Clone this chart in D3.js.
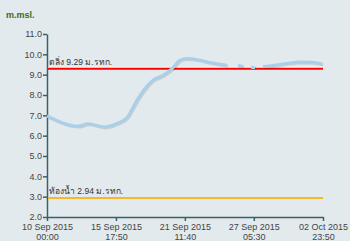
<!DOCTYPE html>
<html>
<head>
<meta charset="utf-8">
<script src="https://cdn.jsdelivr.net/npm/d3@7"></script>
<style>
body { margin: 0; background: #e3eaed; }
svg { display: block; font-family: "Liberation Sans", Arial, sans-serif; }
</style>
</head>
<body>
<div id="chart"></div>
<script>
// water level readings, null = missing
var dates = ["2015-09-10 00:00", "2015-09-12 14:00", "2015-09-13 10:00", "2015-09-14 20:00",
  "2015-09-15 20:00", "2015-09-16 16:00", "2015-09-17 12:00", "2015-09-18 04:00",
  "2015-09-18 20:00", "2015-09-19 16:00", "2015-09-20 10:00", "2015-09-21 02:00",
  "2015-09-21 16:00", "2015-09-22 12:00", "2015-09-23 14:00", "2015-09-25 00:00",
  "2015-09-25 10:00", "2015-09-25 22:00", "2015-09-26 08:00", "2015-09-26 16:00",
  "2015-09-27 00:00", "2015-09-27 08:00", "2015-09-27 16:00", "2015-09-28 00:00",
  "2015-09-29 04:00", "2015-09-30 06:00", "2015-10-01 00:00", "2015-10-02 02:00",
  "2015-10-02 22:00"]
var levels = [6.97, 6.47, 6.58, 6.43, 6.6, 6.9, 7.75, 8.32, 8.73, 8.97, 9.3, 9.71,
  9.79, 9.74, 9.6, 9.46, null, 9.45, 9.42, null, 9.36, 9.34, null, 9.4,
  9.48, 9.58, 9.62, 9.61, 9.53]
var yTicks = [2, 3, 4, 5, 6, 7, 8, 9, 10, 11]
var xTicks = ["2015-09-10 00:00", "2015-09-15 17:50", "2015-09-21 11:40", "2015-09-27 05:30", "2015-10-02 23:50"]
var bank = 9.29, bed = 2.94

var parse = d3.timeParse("%Y-%m-%d %H:%M")
var W = 350, H = 241
var margin = { top: 34, right: 27, bottom: 24, left: 47 }
var width = W - margin.left - margin.right
var height = H - margin.top - margin.bottom

var svg = d3.select("#chart").append("svg")
  .attr("width", W).attr("height", H)

var data = dates.map((d, i) => ({ t: parse(d), v: levels[i] }))

var x = d3.scaleTime()
  .domain([parse(xTicks[0]), parse(xTicks[xTicks.length - 1])])
  .range([0, width])
var y = d3.scaleLinear().domain([2, 11]).range([height, 0])

svg.append("text")
  .attr("x", 6).attr("y", 18)
  .attr("font-size", 9).attr("font-weight", "bold")
  .attr("fill", "#3d6b1f")
  .text("m.msl.")

var g = svg.append("g")
  .attr("transform", "translate(" + margin.left + "," + margin.top + ")")

var fmt = d3.timeFormat("%d %b %Y")
var fmt2 = d3.timeFormat("%H:%M")

g.append("g")
  .attr("transform", "translate(0," + height + ")")
  .call(d3.axisBottom(x).tickValues(xTicks.map(parse)).tickSize(4).tickSizeOuter(0).tickFormat(""))
  .call(a => {
    a.select(".domain").attr("stroke", "#34616f").attr("stroke-width", 1.5)
    a.selectAll("line").attr("stroke", "#34616f").attr("stroke-width", 1.5)
    a.selectAll(".tick").each(function (d) {
      var t = d3.select(this).append("text")
        .attr("fill", "#444").attr("font-size", 9).attr("text-anchor", "middle")
      t.append("tspan").attr("x", 0).attr("y", 13).text(fmt(d))
      t.append("tspan").attr("x", 0).attr("y", 23).text(fmt2(d))
    })
  })

g.append("g")
  .call(d3.axisLeft(y).tickValues(yTicks).tickSize(4).tickSizeOuter(0).tickFormat(d3.format(".1f")))
  .call(a => {
    a.select(".domain").attr("stroke", "#34616f").attr("stroke-width", 1.5)
    a.selectAll("line").attr("stroke", "#34616f").attr("stroke-width", 1.5)
    a.selectAll("text").attr("fill", "#444").attr("font-size", 9).attr("x", -5)
  })

// reference lines
g.append("line")
  .attr("x1", 1).attr("x2", width).attr("y1", y(bank) - 1.5).attr("y2", y(bank) - 1.5)
  .attr("stroke", "#fff").attr("stroke-width", 1)
g.append("line")
  .attr("x1", 1).attr("x2", width).attr("y1", y(bank)).attr("y2", y(bank))
  .attr("stroke", "#ff0000").attr("stroke-width", 2)
g.append("line")
  .attr("x1", 1).attr("x2", width).attr("y1", y(bed)).attr("y2", y(bed))
  .attr("stroke", "#f8b62a").attr("stroke-width", 2)

g.append("text")
  .attr("x", 2).attr("y", y(bank) - 4)
  .attr("font-size", 8.5).attr("fill", "#333")
  .text("ตลิ่ง " + bank.toFixed(2) + " ม.รทก.")
g.append("text")
  .attr("x", 2).attr("y", y(bed) - 4)
  .attr("font-size", 8.5).attr("fill", "#333")
  .text("ท้องน้ำ " + bed.toFixed(2) + " ม.รทก.")

var line = d3.line()
  .defined(d => d.v != null)
  .x(d => x(d.t))
  .y(d => y(d.v))
  .curve(d3.curveMonotoneX)

g.append("path").datum(data)
  .attr("d", line)
  .attr("transform", "translate(1,1)")
  .attr("fill", "none")
  .attr("stroke", "rgba(0,0,0,0.12)")
  .attr("stroke-width", 3)

g.append("path").datum(data)
  .attr("d", line)
  .attr("fill", "none")
  .attr("stroke", "#a9d0ea")
  .attr("stroke-width", 3)
</script>
</body>
</html>
